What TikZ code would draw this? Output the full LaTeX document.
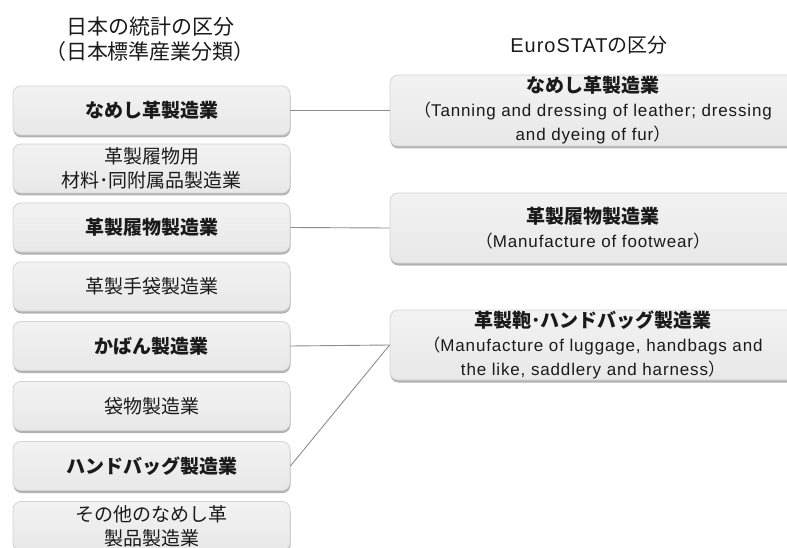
\documentclass[tikz,border=0pt]{standalone}
\usepackage{fontspec}
\setmainfont{Liberation Sans}[LetterSpace=5]
\newfontfamily\jp{Noto Sans CJK JP}
\usetikzlibrary{shadows}
\definecolor{boxline}{HTML}{D4D4D4}
\definecolor{conn}{HTML}{8C8C8C}
\definecolor{txt}{HTML}{1A1A1A}
\tikzset{
  box/.style={draw=boxline, line width=0.8pt, rounded corners=8pt,
    top color=white!95!black, bottom color=white!91!black,
    drop shadow={shadow xshift=0.5pt, shadow yshift=-2.5pt, fill=black, opacity=0.3},
    align=center, text=txt, inner sep=0pt},
  lbox/.style={box, minimum width=277pt, minimum height=49pt, font=\jp\fontsize{19}{24}\selectfont},
  rbox/.style={box, minimum width=406pt, minimum height=70pt, font=\fontsize{17}{24}\selectfont},
  head/.style={align=center, text=txt, inner sep=0pt},
  conn/.style={draw=conn, line width=0.9pt}
}
\begin{document}
\begin{tikzpicture}[x=1pt,y=-1pt]
\useasboundingbox (0,0) rectangle (787,548);
\clip (0,0) rectangle (787,548);
\node[head, font=\jp\fontsize{21}{25}\selectfont] (h1) at (150,39.5) {日本の統計の区分\\（日本標準産業分類）};
\node[head, font=\fontsize{20}{24}\selectfont] (h2) at (589,45) {EuroSTAT{\jp の区分}};

\node[lbox] (l1) at (151.5,110.5) {\bfseries なめし革製造業};
\node[lbox] (l2) at (151.5,168.5) {革製履物用\\材料･同附属品製造業};
\node[lbox] (l3) at (151.5,227.5) {\bfseries 革製履物製造業};
\node[lbox] (l4) at (151.5,286.5) {革製手袋製造業};
\node[lbox] (l5) at (151.5,346) {\bfseries かばん製造業};
\node[lbox] (l6) at (151.5,406) {袋物製造業};
\node[lbox] (l7) at (151.5,466) {\bfseries ハンドバッグ製造業};
\node[lbox] (l8) at (151.5,526) {その他のなめし革\\製品製造業};

\node[rbox, minimum height=71pt] (r1) at (593,110.5) {{\jp\bfseries\fontsize{19}{24}\selectfont なめし革製造業}\\{\jp （}Tanning and dressing of leather; dressing\\and dyeing of fur{\jp ）}};
\node[rbox] (r2) at (593,228) {{\jp\bfseries\fontsize{19}{24}\selectfont 革製履物製造業}\\{\jp （}Manufacture of footwear{\jp ）}};
\node[rbox] (r3) at (593,345) {{\jp\bfseries\fontsize{19}{24}\selectfont 革製鞄･ハンドバッグ製造業}\\{\jp （}Manufacture of luggage, handbags and\\the like, saddlery and harness{\jp ）}};

\draw[conn] (l1.east) -- (r1.west);
\draw[conn] (l3.east) -- (r2.west);
\draw[conn] (l5.east) -- (r3.west);
\draw[conn] (l7.east) -- (r3.west);
\end{tikzpicture}
\end{document}
